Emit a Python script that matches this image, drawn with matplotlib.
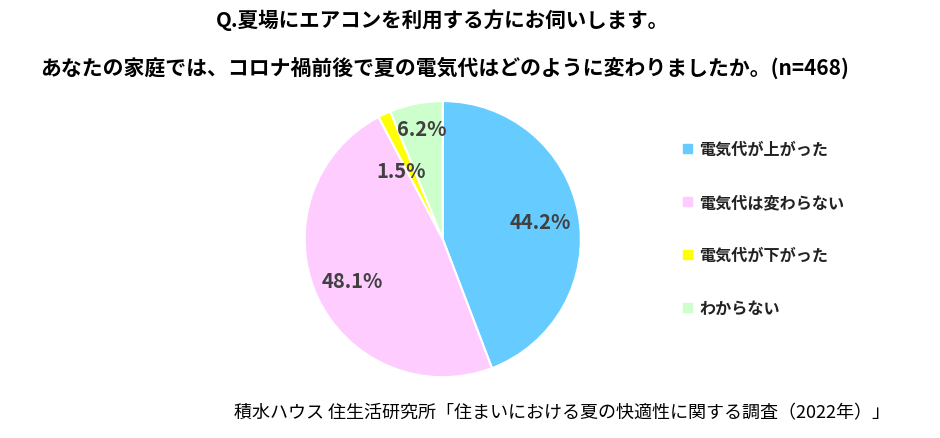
import matplotlib
matplotlib.use("Agg")
import matplotlib.pyplot as plt

plt.rcParams['font.family'] = ['Noto Sans CJK JP', 'DejaVu Sans']

labels = ["電気代が上がった", "電気代は変わらない", "電気代が下がった", "わからない"]
values = [44.2, 48.1, 1.5, 6.2]
colors = ["#66CCFF", "#FFCCFF", "#FFFF00", "#CCFFCC"]

fig = plt.figure(figsize=(9.4, 4.39), dpi=100)
ax = fig.add_axes([0.471 - 0.147, 0.453 - 0.3145, 0.294, 0.629])
wedges, texts, autotexts = ax.pie(values, colors=colors, startangle=90, counterclock=False,
       autopct=lambda p: f"{p:.1f}%", pctdistance=0.72,
       wedgeprops=dict(edgecolor="white", linewidth=1.5),
       textprops=dict(fontsize=14.5, color="#404040", fontweight="bold"))
autotexts[2].set_position((-0.3, 0.5))
autotexts[3].set_position((-0.15, 0.8))
ax.set_xlim(-1, 1)
ax.set_ylim(-1, 1)
ax.set_aspect('equal')

fig.text(0.471, 0.955, "Q.夏場にエアコンを利用する方にお伺いします。", ha="center", va="center",
         fontsize=14.8, fontweight="bold")
fig.text(0.473, 0.845, "あなたの家庭では、コロナ禍前後で夏の電気代はどのように変わりましたか。(n=468)",
         ha="center", va="center", fontsize=15, fontweight="bold")

ys = [150, 203, 256, 309]
for lab, c, y in zip(labels, colors, ys):
    fy = 1 - y / 439
    fig.patches.append(plt.Rectangle((683/940, fy - 4/439), 9/940, 9/439, color=c,
                                     transform=fig.transFigure, figure=fig))
    fig.text(699/940, fy, lab, ha="left", va="center", fontsize=11.6, fontweight="bold", color="#222222")

fig.text(890/940, 1 - 413/439, "積水ハウス 住生活研究所「住まいにおける夏の快適性に関する調査（2022年）」",
         ha="right", va="center", fontsize=13)

fig.savefig("out.png", dpi=100)
